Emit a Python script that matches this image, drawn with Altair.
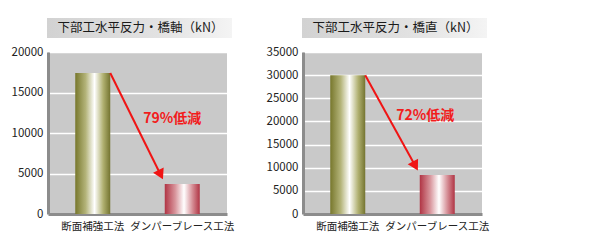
import math
import altair as alt
import pandas as pd

categories = ["断面補強工法", "ダンパーブレース工法"]
axial_values = [17400, 3700]
transverse_values = [30000, 8400]
panel_titles = ["下部工水平反力・橋軸（kN）", "下部工水平反力・橋直（kN）"]
reduction_labels = ["79%低減", "72%低減"]
y_maxes = [20000, 35000]
tick_step = 5000

W, H = 179, 162
BAR = 35
FONT = "Noto Sans CJK JP"

olive = alt.Gradient(
    gradient="linear", x1=0, x2=1, y1=0, y2=0,
    stops=[alt.GradientStop(color="#77772c", offset=0),
           alt.GradientStop(color="#b4b47a", offset=0.3),
           alt.GradientStop(color="#ffffff", offset=0.55),
           alt.GradientStop(color="#b0b070", offset=0.8),
           alt.GradientStop(color="#747430", offset=1)])
rose = alt.Gradient(
    gradient="linear", x1=0, x2=1, y1=0, y2=0,
    stops=[alt.GradientStop(color="#b03444", offset=0),
           alt.GradientStop(color="#d8959c", offset=0.3),
           alt.GradientStop(color="#ffffff", offset=0.55),
           alt.GradientStop(color="#d48a92", offset=0.8),
           alt.GradientStop(color="#b03444", offset=1)])
title_fill = alt.Gradient(
    gradient="linear", x1=0, x2=1, y1=0, y2=0,
    stops=[alt.GradientStop(color="#d2d2d2", offset=0),
           alt.GradientStop(color="#e2e2e2", offset=0.6),
           alt.GradientStop(color="#f4f4f4", offset=1)])


def panel(values, title, label, ymax, dx, dy):
    df = pd.DataFrame({"cat": categories, "val": values})
    xscale = alt.Scale(domain=categories, paddingInner=0, paddingOuter=0)
    yscale = alt.Scale(domain=[0, ymax])
    xaxis = alt.Axis(title=None, labelAngle=0, ticks=False,
                     labelFontSize=10.5, labelColor="#222",
                     labelFont=FONT, labelPadding=7,
                     domainColor="#8c8c8c", domainWidth=3)
    yaxis = alt.Axis(title=None, values=list(range(0, ymax + 1, tick_step)),
                     format="d", labelOverlap=False,
                     grid=True, gridColor="#ffffff", gridWidth=1.5,
                     ticks=False, labelFontSize=11.5, labelColor="#222",
                     labelFont=FONT, labelPadding=5,
                     domainColor="#8c8c8c", domainWidth=3)
    base = alt.Chart(df).encode(x=alt.X("cat:N", scale=xscale, axis=xaxis),
                                y=alt.Y("val:Q", scale=yscale, axis=yaxis))
    b1 = base.transform_filter(alt.datum.cat == categories[0]).mark_bar(size=BAR, color=olive)
    b2 = base.transform_filter(alt.datum.cat == categories[1]).mark_bar(size=BAR, color=rose)

    step = W / 2
    x0 = step * 0.5 + BAR / 2
    y0 = H * (1 - values[0] / ymax)
    x1 = step * 1.5 - BAR / 2 - 1
    y1 = H * (1 - values[1] / ymax) - 3
    ang = math.degrees(math.atan2(x1 - x0, y1 - y0))
    ux, uy = math.sin(math.radians(ang)), math.cos(math.radians(ang))
    back = 7
    hx = -BAR / 2 - 1 - back * ux
    hy = -3 - back * uy

    adf = pd.DataFrame({"c0": [categories[0]], "c1": [categories[1]],
                        "v0": [values[0]], "v1": [values[1]],
                        "mid": [(values[0] + values[1]) / 2], "lab": [label],
                        "t": [title]})
    arrow = alt.Chart(adf).mark_rule(color="#f01414", strokeWidth=2,
                                     xOffset=BAR / 2, x2Offset=hx, y2Offset=hy).encode(
        x=alt.X("c0:N", scale=xscale, axis=xaxis), x2="c1:N",
        y=alt.Y("v0:Q", scale=yscale, axis=yaxis), y2="v1:Q")
    head = alt.Chart(adf).mark_point(shape="triangle-down", filled=True, opacity=1,
                                     color="#f01414", size=140, angle=(360 - ang) % 360,
                                     xOffset=hx, yOffset=hy).encode(
        x=alt.X("c1:N", scale=xscale, axis=xaxis),
        y=alt.Y("v1:Q", scale=yscale, axis=yaxis))
    txt = alt.Chart(adf).mark_text(font=FONT, fontSize=14, fontWeight="bold",
                                   color="#f21c1c", dx=dx, dy=dy).encode(
        x=alt.X("c1:N", scale=xscale, axis=xaxis),
        y=alt.Y("mid:Q", scale=yscale, axis=yaxis), text="lab:N")
    box = alt.Chart(adf).mark_rect(fill=title_fill).encode(
        x=alt.value(-1), x2=alt.value(W + 5), y=alt.value(-34), y2=alt.value(-14))
    ttl = alt.Chart(adf).mark_text(font=FONT, fontSize=12.5, color="#1a1a1a",
                                   baseline="middle", align="center").encode(
        x=alt.value(W / 2 + 3), y=alt.value(-24), text="t:N")
    return alt.layer(box, ttl, b1, b2, arrow, head, txt).properties(width=W, height=H)


left = panel(axial_values, panel_titles[0], reduction_labels[0], y_maxes[0], -10, -10)
right = panel(transverse_values, panel_titles[1], reduction_labels[1], y_maxes[1], -12, -9)

chart = alt.hconcat(left, right, spacing=31).configure_view(
    fill="#c9c9c9", stroke=None
).properties(padding={"left": 11, "top": 18, "right": 5, "bottom": 5},
             background="#ffffff")

chart.save("out.html", embed_options={"renderer": "svg", "actions": False})
